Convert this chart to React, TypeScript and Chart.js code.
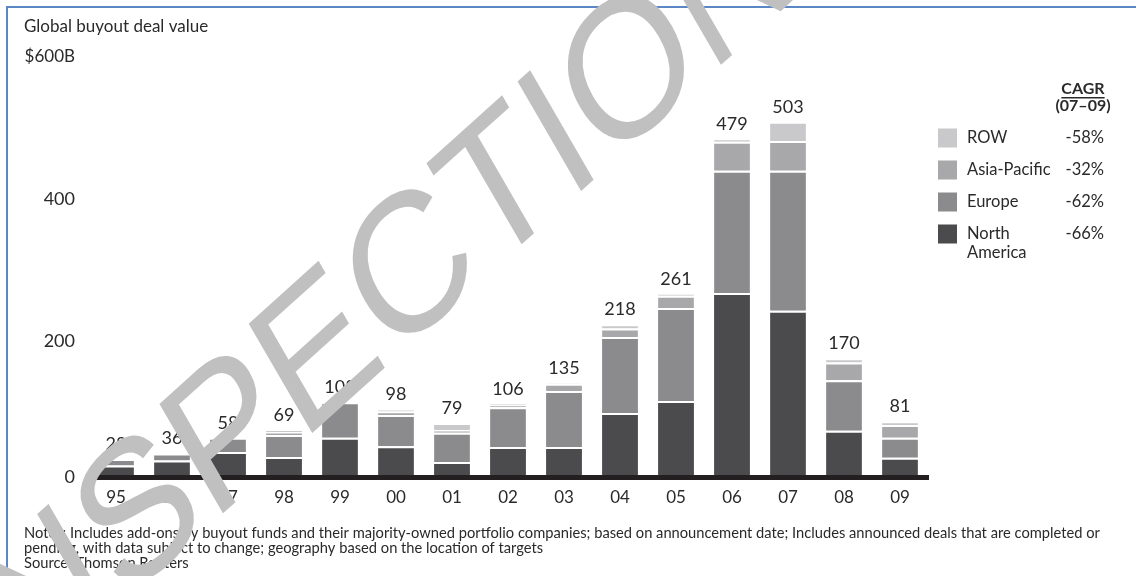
import React, { useEffect, useRef } from 'react';
import { Chart, registerables } from 'chart.js';

Chart.register(...registerables);

// Deal value by region, $B (stacked bottom to top)
const years = ['95', '96', '97', '98', '99', '00', '01', '02', '03', '04', '05', '06', '07', '08', '09'];
const northAmerica = [19, 26, 38, 31, 58, 46, 24, 45, 45, 93, 110, 262, 237, 68, 30];
const europe = [9, 10, 20, 31, 50, 44, 41, 56, 79, 107, 131, 172, 197, 71, 28];
const asiaPacific = [0, 0, 0, 4, 0, 5, 4, 3, 10, 12, 17, 41, 42, 25, 18];
const restOfWorld = [0, 0, 0, 3, 0, 3, 10, 2, 1, 6, 3, 4, 27, 6, 5];

const regionNames = ['North America', 'Europe', 'Asia-Pacific', 'ROW'];
const regionColors = ['#4b4b4d', '#8b8b8d', '#a8a8aa', '#c9c9cb'];
const cagr0709 = ['-66%', '-62%', '-32%', '-58%'];

const yTicks = [0, 200, 400, 600];

const titleText = 'Global buyout deal value';
const noteLines = [
  'Notes: Includes add-ons by buyout funds and their majority-owned portfolio companies; based on announcement date; Includes announced deals that are completed or',
  'pending, with data subject to change; geography based on the location of targets',
  'Source: Thomson Reuters',
];
const watermarkText = 'INSPECTION';

const FONT = 'Lato, "Open Sans", sans-serif';
const INK = '#2a2a2a';

const decorPlugin = {
  id: 'decor',
  afterDatasetsDraw(chart: any) {
    const { ctx, chartArea, scales } = chart;
    const x = scales.x;
    const y = scales.y;

    // heavy baseline
    ctx.save();
    ctx.fillStyle = '#231f20';
    ctx.fillRect(chartArea.left - 1, y.getPixelForValue(0) - 4, chartArea.right - chartArea.left + 2, 5);

    // totals above each stack
    ctx.fillStyle = INK;
    ctx.font = `18px ${FONT}`;
    ctx.textAlign = 'center';
    ctx.textBaseline = 'middle';
    years.forEach((_, i) => {
      const total = chart.data.datasets.reduce((s: number, d: any) => s + d.data[i], 0);
      ctx.fillText(String(total), x.getPixelForValue(i), y.getPixelForValue(total) - 15);
    });
    ctx.restore();
  },
  afterDraw(chart: any) {
    const { ctx } = chart;
    ctx.save();

    // frame
    ctx.fillStyle = '#5b87c5';
    ctx.fillRect(6, 6, 1130, 2);
    ctx.fillRect(6, 6, 2, 570);

    // title
    ctx.fillStyle = INK;
    ctx.textBaseline = 'middle';
    ctx.textAlign = 'left';
    ctx.font = `17px ${FONT}`;
    ctx.fillText(titleText, 24, 27);

    // legend with CAGR column
    ctx.font = `bold 16px ${FONT}`;
    ctx.textAlign = 'center';
    ctx.fillText('CAGR', 1083, 89);
    const w = ctx.measureText('CAGR').width;
    ctx.fillRect(1083 - w / 2, 97, w, 1.5);
    ctx.fillText('(07\u201309)', 1083, 106);

    const rows = [3, 2, 1, 0];
    const rowY = [138, 170, 202, 234];
    ctx.font = `16.5px ${FONT}`;
    rows.forEach((ds, r) => {
      const dataset = chart.data.datasets[ds];
      ctx.fillStyle = dataset.backgroundColor;
      ctx.fillRect(938, rowY[r] - 9.5, 19, 19);
      ctx.fillStyle = INK;
      ctx.textAlign = 'left';
      if (dataset.label === 'North America') {
        const parts = String(dataset.label).split(' ');
        ctx.fillText(parts[0], 967, rowY[r]);
        ctx.fillText(parts[1], 967, rowY[r] + 19);
      } else {
        ctx.fillText(dataset.label, 967, rowY[r]);
      }
      ctx.textAlign = 'right';
      ctx.fillText(cagr0709[ds], 1104, rowY[r]);
    });

    // notes
    ctx.textAlign = 'left';
    ctx.font = `14.7px ${FONT}`;
    noteLines.forEach((line, i) => ctx.fillText(line, 24, 533 + i * 15));

    // watermark
    ctx.fillStyle = '#c0c0c0';
    ctx.translate(-11, 724);
    ctx.rotate((-42 * Math.PI) / 180);
    ctx.transform(1, 0, -0.21, 1, 0, 0);
    ctx.font = `180px "Liberation Sans", Arial, sans-serif`;
    ctx.textBaseline = 'alphabetic';
    ctx.fillText(watermarkText, 0, 0);
    ctx.restore();
  },
};

export default function App() {
  const ref = useRef<HTMLCanvasElement>(null);

  useEffect(() => {
    const series = [northAmerica, europe, asiaPacific, restOfWorld];
    const chart = new Chart(ref.current as HTMLCanvasElement, {
      type: 'bar',
      data: {
        labels: years,
        datasets: series.map((data, i) => ({
          label: regionNames[i],
          data,
          backgroundColor: regionColors[i],
          borderColor: '#ffffff',
          borderWidth: { top: 2, left: 0, right: 0, bottom: 0 },
          borderSkipped: 'bottom',
          barPercentage: 0.64,
          categoryPercentage: 1,
        })),
      },
      options: {
        responsive: false,
        animation: false,
        layout: { padding: { left: 0, top: 53, right: 208, bottom: 57 } },
        plugins: {
          legend: { display: false },
          tooltip: { enabled: false },
        },
        scales: {
          x: {
            stacked: true,
            grid: { display: false, drawTicks: false },
            border: { display: false },
            ticks: {
              color: INK,
              padding: 8,
              autoSkip: false,
              maxRotation: 0,
              font: { family: FONT, size: 17 },
            },
            afterFit: (s: any) => {
              s.height = 40;
            },
          },
          y: {
            stacked: true,
            min: 0,
            max: 600,
            grid: { display: false, drawTicks: false },
            border: { display: false },
            afterBuildTicks: (s: any) => {
              s.ticks = yTicks.map((v) => ({ value: v }));
            },
            ticks: {
              color: INK,
              padding: 13,
              labelOffset: 4,
              callback: (v: any) => (v === 600 ? '$600B' : v === 0 ? ['0', ''] : String(v)),
              font: (c: any) =>
                c.tick && c.tick.value === 0
                  ? { family: FONT, size: 18, lineHeight: '12px' }
                  : { family: FONT, size: c.tick && c.tick.value === 600 ? 17 : 18 },
            },
            afterFit: (s: any) => {
              s.width = 88;
            },
          },
        },
      },
      plugins: [decorPlugin],
    } as any);
    return () => chart.destroy();
  }, []);

  return (
    <div style={{ position: 'absolute', left: 0, top: 0, width: 1136, height: 576, background: '#ffffff' }}>
      <canvas ref={ref} width={1136} height={576} style={{ display: 'block' }} />
    </div>
  );
}
